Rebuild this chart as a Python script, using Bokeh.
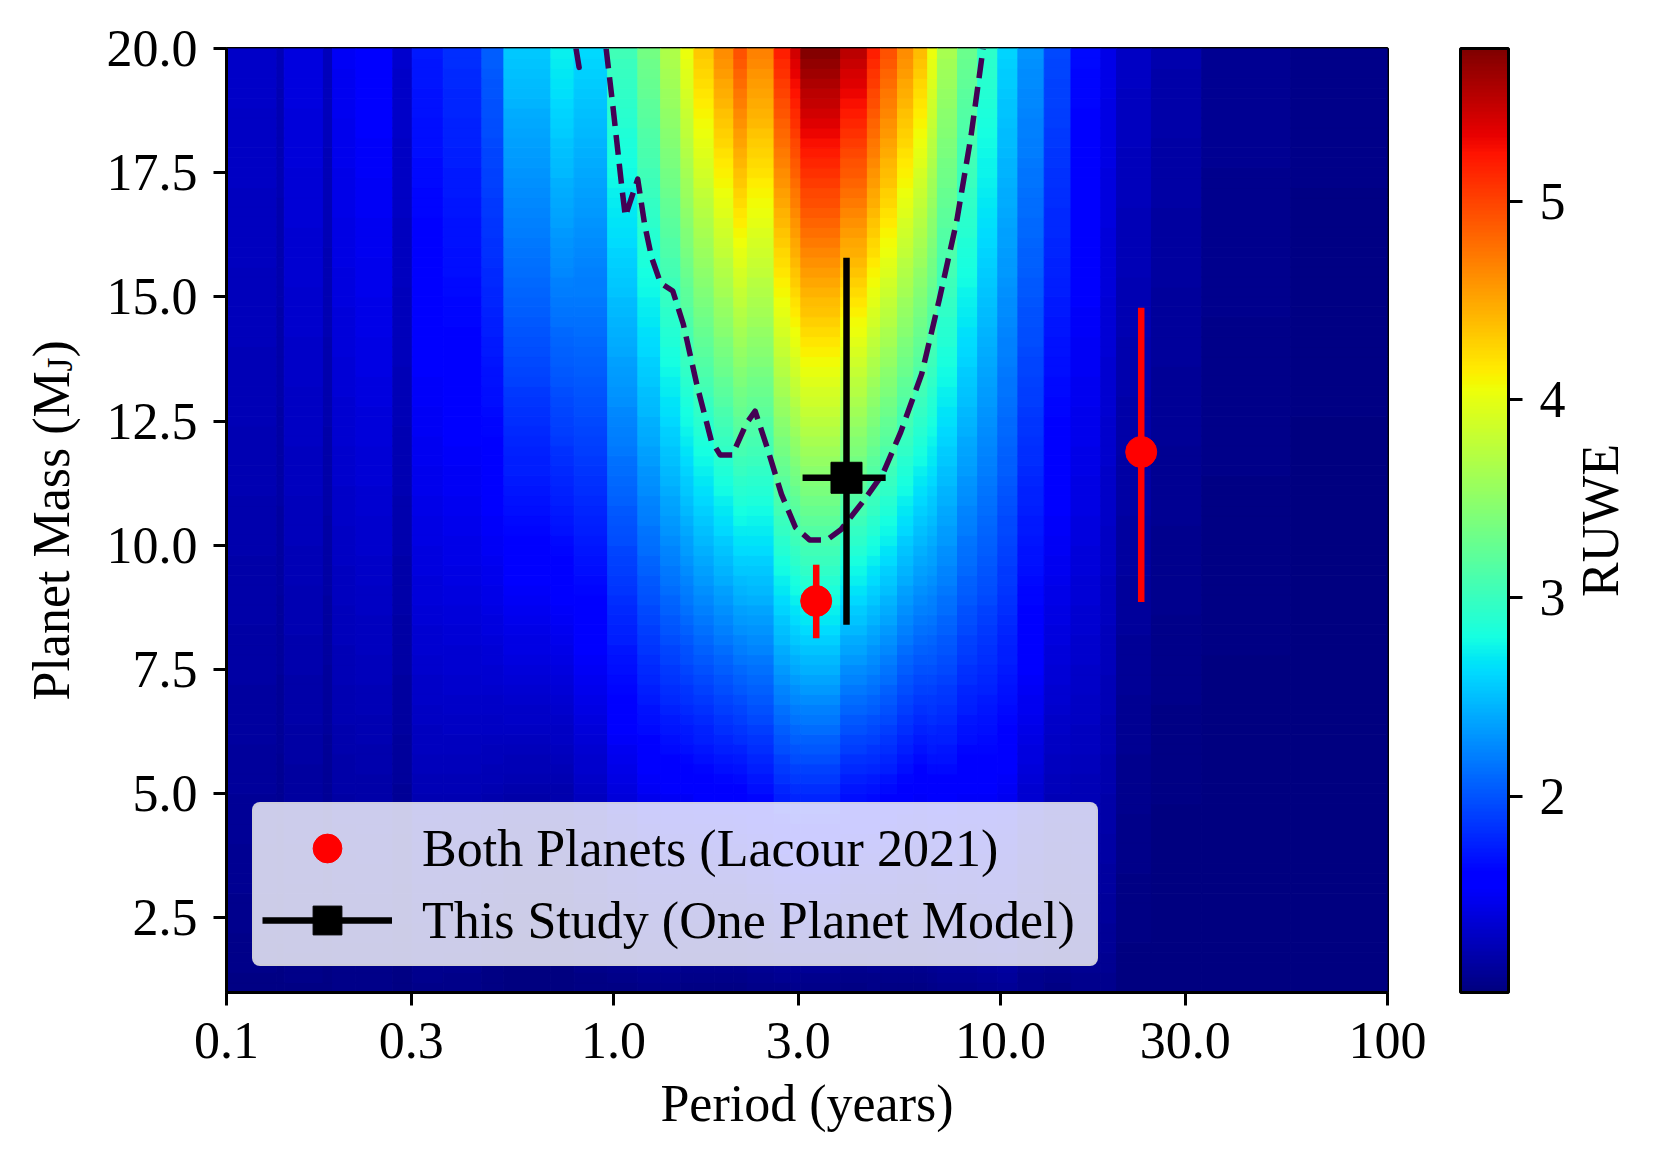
import math
import numpy as np
from bokeh.plotting import figure
from bokeh.layouts import row
from bokeh.models import (ColumnDataSource, LinearColorMapper, ColorBar, FixedTicker,
                          Legend, LegendItem, Label, Range1d, PrintfTickFormatter)
from bokeh.embed import file_html
from bokeh.resources import INLINE

# ---------------- data ----------------
# period bins (years) of the RUWE map
period_edges = [0.100, 0.135, 0.141, 0.178, 0.188, 0.216, 0.269, 0.302, 0.363, 0.457,
                0.521, 0.689, 0.791, 0.966, 1.156, 1.324, 1.493, 1.614, 1.820, 2.046,
                2.218, 2.600, 2.871, 3.048, 3.864, 4.529, 4.898, 5.420, 5.970, 6.486,
                6.871, 7.745, 8.730, 9.840, 11.09, 12.97, 15.21, 18.16, 19.95, 24.55,
                33.11, 56.23, 100.0]
# RUWE read at the top of the map (20 MJ) for each period bin
ruwe_at_20mj = [1.32, 1.24, 1.42, 1.27, 1.50, 1.57, 1.33, 1.72, 1.82, 2.05,
                2.55, 2.75, 2.62, 3.05, 3.35, 3.70, 4.05, 4.35, 4.65, 4.95,
                4.70, 5.20, 5.45, 5.77, 5.55, 5.20, 4.95, 4.65, 4.40, 4.05,
                3.65, 3.30, 2.95, 2.60, 2.30, 1.95, 1.65, 1.45, 1.30, 1.20,
                1.10, 1.06]
# RUWE read at 10 MJ for each period bin
ruwe_at_10mj = [1.20, 1.15, 1.25, 1.17, 1.30, 1.33, 1.20, 1.42, 1.45, 1.50,
                1.60, 1.65, 1.72, 1.95, 2.12, 2.25, 2.35, 2.45, 2.55, 2.65,
                2.65, 2.90, 3.00, 3.08, 2.90, 2.80, 2.70, 2.55, 2.45, 2.40,
                2.30, 2.15, 2.05, 1.92, 1.70, 1.50, 1.40, 1.30, 1.15, 1.08,
                1.04, 1.02]
mass_min, mass_max, mass_step = 1.0, 20.0, 0.2

# dashed RUWE contour
contour_period = [0.957, 0.998, 1.051, 1.073, 1.155, 1.204, 1.255, 1.323, 1.423, 1.515,
                  1.646, 1.789, 1.886, 2.028, 2.204, 2.323, 2.499, 2.716, 2.953, 3.211,
                  3.563, 3.873, 4.482, 4.973, 5.523, 6.258, 6.949, 7.713, 8.381, 9.016]
contour_mass = [20.0, 18.79, 17.20, 16.62, 17.37, 16.45, 15.79, 15.28, 15.12, 14.45,
                13.20, 12.11, 11.82, 11.82, 12.45, 12.70, 11.95, 11.03, 10.36, 10.11,
                10.11, 10.32, 10.95, 11.45, 12.28, 13.45, 14.95, 16.54, 18.21, 20.0]
contour_hook_period = [0.800, 0.815]
contour_hook_mass = [20.0, 19.62]

# Lacour 2021 (beta Pic c, beta Pic b)
lacour_period = [3.34, 23.1]
lacour_period_err = [0.02, 0.4]
lacour_mass = [8.88, 11.88]
lacour_mass_err_lo = [0.75, 3.02]
lacour_mass_err_hi = [0.73, 2.90]

# This study (one planet model)
study_period = [4.00]
study_period_err_lo = [0.92]
study_period_err_hi = [1.05]
study_mass = [11.36]
study_mass_err_lo = [2.96]
study_mass_err_hi = [4.43]

x_ticks = [0.1, 0.3, 1.0, 3.0, 10.0, 30.0, 100.0]
x_tick_labels = ["0.1", "0.3", "1.0", "3.0", "10.0", "30.0", "100"]
y_ticks = [2.5, 5.0, 7.5, 10.0, 12.5, 15.0, 17.5, 20.0]
cbar_ticks = [2, 3, 4, 5]
ruwe_low, ruwe_high = 1.01, 5.77

FONT = "Liberation Serif"
FS = "52px"
FRAME_W, FRAME_H = 1161, 944
TOP = 48

# ---------------- jet palette ----------------
_t = np.linspace(0, 1, 256)
_r = np.interp(_t, [0, 0.35, 0.66, 0.89, 1], [0, 0, 1, 1, 0.5])
_g = np.interp(_t, [0, 0.125, 0.375, 0.64, 0.91, 1], [0, 0, 1, 1, 0, 0])
_b = np.interp(_t, [0, 0.11, 0.34, 0.65, 1], [0.5, 1, 1, 0, 0])
jet = ["#%02x%02x%02x" % (int(round(r * 255)), int(round(g * 255)), int(round(b * 255)))
       for r, g, b in zip(_r, _g, _b)]
mapper = LinearColorMapper(palette=jet, low=ruwe_low, high=ruwe_high)

# ---------------- RUWE map cells ----------------
mass_edges = np.round(np.arange(mass_min, mass_max + 1e-9, mass_step), 3)
L, R, B, T, V = [], [], [], [], []
for i in range(len(ruwe_at_20mj)):
    e20 = ruwe_at_20mj[i] ** 2 - 1.0
    e10 = ruwe_at_10mj[i] ** 2 - 1.0
    n = math.log(e20 / e10) / math.log(2.0)
    for j in range(len(mass_edges) - 1):
        mc = 0.5 * (mass_edges[j] + mass_edges[j + 1])
        L.append(period_edges[i]); R.append(period_edges[i + 1])
        B.append(mass_edges[j]); T.append(mass_edges[j + 1])
        V.append(math.sqrt(1.0 + e10 * (mc / 10.0) ** n))
cells = ColumnDataSource(dict(left=L, right=R, bottom=B, top=T, ruwe=V))

# ---------------- main figure ----------------
p = figure(x_axis_type="log", x_range=Range1d(0.1, 100), y_range=Range1d(1, 20),
           frame_width=FRAME_W, frame_height=FRAME_H,
           min_border_left=126, min_border_top=TOP, min_border_right=182, min_border_bottom=166,
           output_backend="svg", toolbar_location=None)
p.grid.visible = False
p.outline_line_color = "black"
p.outline_line_width = 3

cmap_field = {"field": "ruwe", "transform": mapper}
p.quad(left="left", right="right", bottom="bottom", top="top", source=cells,
       fill_color=cmap_field, line_color=cmap_field, line_width=1)

p.line(contour_period, contour_mass, line_color="#440154", line_width=5.5, line_dash="20 9",
       line_join="round")
p.line(contour_hook_period, contour_hook_mass, line_color="#440154", line_width=5.5,
       line_cap="round")

# Lacour error bars and points
lp = np.array(lacour_period); lpe = np.array(lacour_period_err)
lm = np.array(lacour_mass)
p.segment(x0=list(lp), y0=list(lm - np.array(lacour_mass_err_lo)),
          x1=list(lp), y1=list(lm + np.array(lacour_mass_err_hi)),
          line_color="red", line_width=6.5)
p.segment(x0=list(lp - lpe), y0=lacour_mass, x1=list(lp + lpe), y1=lacour_mass,
          line_color="red", line_width=6.5)
red_pts = p.scatter(lacour_period, lacour_mass, marker="circle", size=31,
                    fill_color="red", line_color="red")

# This study
sp = np.array(study_period); sm = np.array(study_mass)
p.segment(x0=study_period, y0=list(sm - np.array(study_mass_err_lo)),
          x1=study_period, y1=list(sm + np.array(study_mass_err_hi)),
          line_color="black", line_width=6.5)
blk_h = p.segment(x0=list(sp - np.array(study_period_err_lo)), y0=study_mass,
                  x1=list(sp + np.array(study_period_err_hi)), y1=study_mass,
                  line_color="black", line_width=6.5)
blk_pts = p.scatter(study_period, study_mass, marker="square", size=31,
                    fill_color="black", line_color="black")

# axes
p.xaxis.ticker = FixedTicker(ticks=x_ticks, minor_ticks=[])
p.xaxis.major_label_overrides = {t: s for t, s in zip(x_ticks, x_tick_labels)}
p.yaxis.ticker = FixedTicker(ticks=y_ticks, minor_ticks=[])
p.yaxis.formatter = PrintfTickFormatter(format="%.1f")
for ax in (p.xaxis[0], p.yaxis[0]):
    ax.axis_line_width = 3
    ax.axis_line_color = "black"
    ax.major_tick_line_width = 3
    ax.major_tick_line_color = "black"
    ax.major_tick_out = 13
    ax.major_tick_in = 0
    ax.minor_tick_out = 0
    ax.minor_tick_in = 0
    ax.major_label_text_font = FONT
    ax.major_label_text_font_size = FS
    ax.major_label_text_color = "black"
    ax.axis_label_text_font = FONT
    ax.axis_label_text_font_size = FS
    ax.axis_label_text_font_style = "normal"
    ax.axis_label_text_color = "black"
p.xaxis.major_label_standoff = 17
p.yaxis.major_label_standoff = 16
p.xaxis.axis_label = "Period (years)"
p.xaxis.axis_label_standoff = 14
p.yaxis.axis_label = None

# colour bar
cb = ColorBar(color_mapper=mapper, ticker=FixedTicker(ticks=cbar_ticks), width=48, height=FRAME_H,
              location=(73, 0), margin=0, padding=0,
              bar_line_color="black", bar_line_width=3,
              major_tick_in=0, major_tick_out=14, major_tick_line_color="black",
              major_tick_line_width=3, minor_tick_out=0, minor_tick_in=0,
              label_standoff=17, major_label_text_font=FONT, major_label_text_font_size=FS,
              major_label_text_color="black", background_fill_color=None,
              border_line_color=None)
p.add_layout(cb, "right")

# legend
legend = Legend(items=[LegendItem(label="Both Planets (Lacour 2021)", renderers=[red_pts]),
                       LegendItem(label="This Study (One Planet Model)", renderers=[blk_h, blk_pts])],
                location="bottom_left", margin=26, padding=8, spacing=0,
                glyph_width=130, glyph_height=72, label_height=72, label_width=666,
                label_standoff=30,
                label_text_font=FONT, label_text_font_size=FS, label_text_color="black",
                background_fill_color="white", background_fill_alpha=0.8,
                border_line_color="#cccccc", border_line_width=2)
try:
    legend.border_radius = 8
except Exception:
    pass
p.add_layout(legend)


# ---------------- side label strips ----------------
def label_strip(width):
    f = figure(frame_width=width, frame_height=FRAME_H, min_border_left=0, min_border_right=0,
               min_border_top=TOP, min_border_bottom=0, x_range=Range1d(0, 1), y_range=Range1d(0, 1),
               x_axis_location=None, y_axis_location=None, toolbar_location=None,
               output_backend="svg", outline_line_color=None)
    f.grid.visible = False
    return f


ylab = label_strip(100)
ylab.add_layout(Label(x=51, y=292, x_units="screen", y_units="screen", angle=math.pi / 2,
                      text="Planet Mass (M", text_font=FONT, text_font_size=FS,
                      text_align="left", text_baseline="alphabetic", text_color="black"))
ylab.add_layout(Label(x=59, y=621, x_units="screen", y_units="screen", angle=math.pi / 2,
                      text="J", text_font=FONT, text_font_size="36px",
                      text_align="left", text_baseline="alphabetic", text_color="black"))
ylab.add_layout(Label(x=51, y=635, x_units="screen", y_units="screen", angle=math.pi / 2,
                      text=")", text_font=FONT, text_font_size=FS,
                      text_align="left", text_baseline="alphabetic", text_color="black"))

rlab = label_strip(80)
rlab.add_layout(Label(x=31, y=FRAME_H / 2, x_units="screen", y_units="screen", angle=math.pi / 2,
                      text="RUWE", text_font=FONT, text_font_size=FS,
                      text_align="center", text_baseline="alphabetic", text_color="black"))

layout = row(ylab, p, rlab, spacing=0)
open("out.html", "w").write(file_html(layout, INLINE))
